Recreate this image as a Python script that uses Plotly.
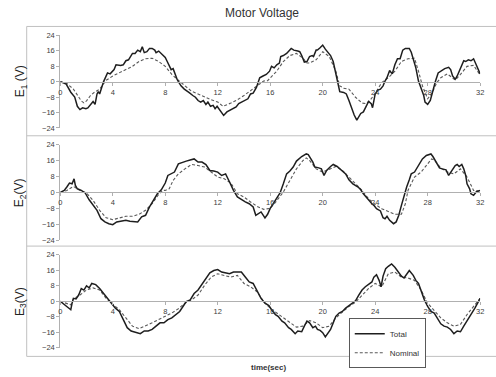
import plotly.graph_objects as go

# ---------------- data ----------------
time_ticks = [0, 4, 8, 12, 16, 20, 24, 28, 32]
volt_ticks = [-24, -16, -8, 0, 8, 16, 24]

e1_total_t = [0, 0.45, 0.8, 1.1, 1.3, 1.5, 1.7, 1.95, 2.1, 2.3, 2.5, 2.65, 2.8, 2.9, 3.0, 3.3, 3.6, 3.8,
              4.1, 4.25, 4.6, 4.8, 5.0, 5.2, 5.5, 5.7, 5.9, 6.1, 6.25, 6.4, 6.6, 6.8, 7.0, 7.2, 7.3, 7.5,
              7.75, 8.0, 8.15, 8.3, 8.45, 8.6, 8.7, 8.9, 9.0, 9.2, 9.45, 9.65, 9.8, 10.1, 10.3, 10.5,
              10.7, 10.9, 11.1, 11.25, 11.45, 11.65, 11.8, 11.95, 12.15, 12.3, 12.45, 12.7, 12.95, 13.2,
              13.4, 13.6, 13.8, 14.1, 14.3, 14.5, 14.7, 14.95, 15.2, 15.45, 15.7, 15.95,
              16.1, 16.3, 16.5, 16.7, 16.8, 17.0, 17.25, 17.6, 17.8, 18.1, 18.25, 18.4, 18.6, 18.8,
              19.0, 19.2, 19.3, 19.5, 19.6, 19.8, 20.0, 20.2, 20.4, 20.6, 20.8, 21.0, 21.2, 21.3, 21.6,
              21.8, 22.0, 22.2, 22.4, 22.6, 22.75, 22.9, 23.1, 23.3, 23.5, 23.7, 23.8, 24.0, 24.2, 24.4,
              24.6, 24.75, 24.9, 25.1, 25.3, 25.5, 25.7, 25.9, 26.1, 26.3, 26.6, 26.75, 26.9, 27.1, 27.3,
              27.5, 27.7, 27.8, 28.0, 28.2, 28.4, 28.6, 28.8, 29.1, 29.3, 29.6, 29.75, 29.9, 30.1, 30.25,
              30.5, 30.75, 30.9, 31.1, 31.3, 31.5, 31.7, 32.0]
e1_total_v = [0, -1.3, -5.5, -8, -12.8, -14.5, -13.6, -14, -13.6, -11.8, -10.3, -11.8, -6.4, -5.2, -6.4, 0, 4.5, 4,
              6.2, 8.7, 8.4, 8.7, 10.8, 11.3, 14.6, 14.6, 16.3, 15.5, 18, 15, 15.5, 17.2, 17.2, 16.3, 15, 15.8,
              14.1, 12.5, 10.4, 7.9, 6.2, 6.7, 4.5, 1.2, 0, -2.2, -3.9, -4.7, -5.6, -7.2, -8.1, -9.8,
              -10.6, -9.8, -11.8, -10.6, -12.8, -12.3, -14, -12.8, -14.8, -15.7, -17.5, -15.7, -14.8, -13.5,
              -13.1, -11.4, -10.6, -9.8, -8.9, -6.4, -6, -3, 2, 2.9, 3.7, 5.4,
              7.9, 7.1, 8.7, 9.6, 13, 13.5, 14.6, 17.2, 16.3, 15.8, 15.5, 13.5, 10.1, 10.4,
              13, 13.5, 13, 16.3, 16.3, 17.5, 18.9, 16.8, 15.2, 13.5, 10.4, 4.5, -3, -5.2, -5.6,
              -6.4, -9.8, -14, -17.3, -19.9, -17.8, -16.5, -15.7, -13.1, -10.3, -11.4, -13.5, -6.4, -4.4, -3.9,
              -2.2, 0.3, 2, 5.7, 4, 8.7, 11.8, 11.8, 16.3, 17.2, 17.2, 15.2, 12.1, 7.1, 0.3,
              -3.9, -7.2, -10.6, -11.8, -9.8, -3.9, 0.3, 4.5, 5.7, 6.7, 7.4, 6.2, 2.9, 1.2, 2.9,
              7.1, 10.8, 10.4, 11.3, 10.8, 11.8, 8.7, 4]

e1_nominal_t = [0, 0.5, 1.0, 1.3, 1.6, 1.8, 2.0, 2.3, 2.6, 3.0, 3.3, 3.5, 4, 4.5, 5, 5.5, 6, 6.5, 7, 7.5, 8,
                8.5, 9, 9.5, 10, 10.5, 11, 11.5, 12, 12.4, 13, 13.5, 14, 14.5, 15, 15.5, 15.8, 16, 16.5,
                17, 17.5, 18, 18.5, 18.8, 19, 19.5, 20, 20.5, 21, 21.3, 21.6, 22, 22.5, 23, 23.3, 23.6,
                24, 24.5, 25, 25.5, 26, 26.5, 27, 27.3, 27.6, 28, 28.3, 28.7, 29, 29.5, 29.9, 30.1,
                30.5, 31, 31.5, 32]
e1_nominal_v = [0, -1, -3.9, -7.2, -10, -11, -10, -7.2, -5.5, -3.9, -1.3, 0.7, 2.9, 4.5, 6.2, 7.9, 10.4, 11.8,
                12.1, 10.4, 7.9, 3.7, 0.7, -2.2, -5, -6.4, -8.1, -9.4, -10.6, -12.8, -11.1, -9.4, -7.2,
                -4.7, -2.2, 0.3, 0.5, 2, 5.4, 10.4, 13.5, 14.6, 12.1, 9.6, 9.6, 11.3, 15.5, 13, 5.4,
                -2.2, -3.4, -3.9, -8.1, -11.1, -11.4, -9.8, -6.1, -0.5, 2, 5.4, 10.4, 11.8, 12.1, 5.4,
                -2.2, -8.9, -6.4, -0.5, 2, 4, 2, 0.8, 3.7, 7.9, 8.4, 3.4]

e2_total_t = [0, 0.3, 0.5, 0.7, 0.9, 1.05, 1.15, 1.3, 1.6, 1.9, 2.2, 2.5, 2.8, 3.1, 3.4, 3.7, 4.0, 4.3, 4.6,
              5.0, 5.3, 5.6, 5.9, 6.2, 6.5, 6.8, 7.1, 7.4, 7.7, 8.0, 8.2, 8.5, 8.7, 9.0, 9.3, 9.6, 9.9,
              10.2, 10.5, 10.8, 11.1, 11.4, 11.7, 12.0, 12.3, 12.6, 12.9, 13.2, 13.5, 13.8, 14.1, 14.4,
              14.7, 14.9, 15.1, 15.3, 15.6, 15.8, 16.0, 16.4, 16.75,
              17.0, 17.25, 17.5, 17.75, 18.0, 18.4, 18.75, 18.9, 19.25, 19.4, 19.7, 19.9, 20.1, 20.3,
              20.6, 20.8, 21.1, 21.4, 21.75, 22.0, 22.3, 22.7, 22.9, 23.1, 23.4, 23.75, 23.9, 24.1,
              24.4, 24.6, 24.75, 24.9, 25.1, 25.4, 25.6, 25.8, 26.0, 26.2, 26.4, 26.6, 26.75, 27.0,
              27.25, 27.4, 27.6, 27.9, 28.25, 28.4, 28.6, 28.9, 29.1, 29.4, 29.6, 29.8, 30.1, 30.25,
              30.4, 30.6, 30.75, 30.9, 31.0, 31.2, 31.3, 31.5, 31.7, 32.0]
e2_total_v = [0, 1, 2.7, 4.7, 4.3, 6.8, 3.5, 1.8, 1, -0.3, -3.7, -6.5, -9, -13.2, -14.8, -15.7, -16.2, -14.8, -14.5,
              -14, -14.5, -14.5, -14.8, -12.3, -11.5, -7.3, -4, -0.7, 1.3, 4.7, 8.5, 9.3, 10.2, 14.3, 15.2, 15.7, 16.3,
              16.8, 15.2, 15.2, 14, 11, 10.7, 10.2, 8.5, 9.3, 5.2, 1, -2.3, -3.7, -4.8, -5.7,
              -7.3, -11.5, -10.7, -9.8, -12.8, -11, -8, -3.5, -0.3,
              4.3, 9.3, 10.7, 12.7, 15.7, 18, 19.3, 19, 15.2, 12.7, 12.3, 11.8, 8.5, 11,
              13, 14, 13, 11.3, 9.3, 6.3, 4.3, 2.7, 1.3, -0.7, -3.2, -5.7, -6.5, -8.2,
              -9.3, -12.7, -13.2, -12, -14, -15.7, -14.8, -11.5, -6.5, -1.5, 2.7, 6.3, 9.3, 10.2,
              12.7, 14.3, 16.8, 18.5, 19.3, 18, 15.7, 12.3, 11.8, 11.3, 8.5, 10.7, 13.5, 14,
              13, 14, 11.8, 8.5, 4.3, 1.8, -0.7, -1.5, 0.2, 1]

e2_nominal_t = [0, 0.5, 1.0, 1.3, 1.6, 2.0, 2.5, 3.0, 3.5, 4.0, 4.5, 5.0, 5.5, 6.0, 6.5, 7.0, 7.5, 7.8, 8.0,
                8.3, 8.6, 9.0, 9.5, 10.0, 10.5, 11.0, 11.5, 12.0, 12.5, 13.0, 13.5, 14.0, 14.5, 15.0, 15.5,
                16.0, 16.4, 17, 17.5, 18, 18.5, 18.75, 19, 19.5, 20, 20.5, 21, 21.5, 22, 22.5, 23, 23.5,
                24, 24.5, 25, 25.5, 26, 26.3, 26.5, 27, 27.5, 28, 28.3, 28.5, 29, 29.5, 30, 30.5, 31,
                31.5, 32]
e2_nominal_v = [0, 1, 3, 1.8, 0.7, -0.3, -4, -9, -12.7, -13.7, -12.8, -12, -12, -11, -9, -5.7, -1, 1, 1,
                1.8, 6, 9.3, 11.8, 14, 13.5, 12.7, 10.2, 7.7, 6.8, 4.7, -0.7, -2.3, -4.8, -7, -8.5,
                -8, -5, 0.2, 6, 11.8, 16, 17.3, 16, 11.8, 10.2, 11.8, 13, 11, 7.7, 4.3, 1, -3.2,
                -6, -8.2, -9.8, -11, -11, -5.7, 1, 7.7, 10.2, 14, 16.8, 16.3, 12.3, 10.2, 9.3, 11.8, 7.7,
                1, 0.7]

e3_total_t = [0, 0.3, 0.6, 0.8, 0.9, 1.0, 1.2, 1.4, 1.6, 1.8, 2.0, 2.2, 2.4, 2.7, 3.0, 3.3, 3.6, 3.9, 4.2,
              4.5, 4.8, 5.1, 5.4, 5.8, 6.1, 6.4, 6.7, 7.0, 7.3, 7.6, 7.9, 8.2, 8.5, 8.8, 9.1, 9.4, 9.6,
              9.9, 10.2, 10.5, 10.8, 11.1, 11.4, 11.7, 12.0, 12.3, 12.6, 12.9, 13.2, 13.5, 13.8, 14.1,
              14.4, 14.7, 15.0, 15.3, 15.6, 15.9,
              16.1, 16.4, 16.6, 16.9, 17.1, 17.4, 17.6, 17.9, 18.1, 18.4, 18.6, 18.8, 19.0, 19.25,
              19.45, 19.6, 19.8, 20.0, 20.2, 20.4, 20.6, 20.8, 21.0, 21.25, 21.5, 21.75, 22.0, 22.25,
              22.5, 22.75, 23.0, 23.25, 23.5, 23.75, 23.9, 24.1, 24.3, 24.45, 24.6, 24.8, 25.0, 25.25,
              25.5, 25.75, 26.0, 26.2, 26.4, 26.6, 26.9, 27.1, 27.3, 27.5, 27.75, 28.0, 28.25, 28.5,
              28.75, 29.0, 29.25, 29.5, 29.75, 30.0, 30.25, 30.5, 30.75, 31.0, 31.2, 31.4, 31.6, 32.0]
e3_total_v = [0, -1.5, -3.2, -4.4, -1, 1.5, 1.2, 3.2, 6.6, 5.8, 8, 6.9, 9.2, 8.6, 6.6, 4, 1.2, -1.5, -3.6,
              -5.3, -9.5, -13.7, -15.4, -16.3, -16.8, -15.4, -15.4, -14.6, -12.9, -11.2, -11.2, -9.5, -8.6,
              -6.9, -5.3, -2.2, -0.2, 0.7, 4, 5.8, 8.6, 11.7, 14.7, 15.9, 16.4, 15.1, 14.7, 14.2, 15.1,
              15.1, 15.1, 12.5, 10, 9.2, 4.9, 1.5, -1, -2.2,
              -4.4, -6.9, -7.8, -10.3, -11.2, -13.7, -14.6, -16.8, -15.4, -15.8, -12.9, -10.3, -11.2,
              -13.7, -12.9, -14.6, -15.1, -16.3, -18.5, -16.8, -14.6, -11.2, -7.8, -6.1, -5.3, -3.6,
              -2.2, -1, 0.2, 3.2, 5.8, 7.5, 8.6, 10, 12.5, 13.7, 10.8, 7.5, 13, 16.8, 18.1, 19.3,
              17.6, 15.1, 13, 12, 14.2, 15.9, 13.4, 10.8, 9.2, 4.9, 0.7, -2.7, -5.3, -6.1,
              -8.6, -11.7, -12.9, -13.4, -14.6, -16.8, -15.4, -15.8, -12.9, -10.3, -7.8, -6.1, -3.6, 1.5]

e3_nominal_t = [0, 0.5, 0.8, 1.0, 1.5, 2.0, 2.5, 3.0, 3.5, 4.0, 4.5, 5.0, 5.5, 6.0, 6.5, 7.0, 7.5, 8.0, 8.5,
                9.0, 9.5, 10.0, 10.5, 11.0, 11.5, 12.0, 12.5, 13.0, 13.5, 14.0, 14.5, 15.0, 15.5, 16.0,
                16.5, 17, 17.5, 18, 18.5, 19, 19.5, 20, 20.5, 21, 21.5, 22, 22.5, 23, 23.5, 24, 24.3,
                24.5, 25, 25.5, 26, 26.5, 27, 27.5, 28, 28.5, 29, 29.5, 30, 30.5, 31, 31.5, 32]
e3_nominal_v = [0, -1, -1.9, 1.2, 3.2, 5.8, 6.9, 5.8, 1.5, -1.5, -4.4, -8.6, -12.9, -14.2, -12.9, -11.2, -9.5,
                -7.8, -6.1, -3.9, -1, 0.7, 3.2, 8.3, 12.5, 14.2, 13.4, 12.5, 13.4, 9.2, 7.5, 4.9, -0.2,
                -3.6, -6.1, -8.6, -11.2, -13.4, -12.9, -10, -11.2, -13.7, -12.9, -8.6, -5.6, -2.7, -0.5,
                3.2, 6.6, 9.2, 8.3, 7.5, 14.2, 15.1, 12.5, 12, 10.8, 5.8, -1, -4.9, -8.6, -11.2, -12.9,
                -12, -6.9, -2.7, 1.5]

panel_titles = ["E<sub>1</sub> (V)", "E<sub>2</sub>(V)", "E<sub>3</sub>(V)"]
series_names = ["Total", "Nominal"]

# ---------------- layout geometry ----------------
W, H = 496, 377
FONT = "Liberation Sans, Arial, sans-serif"
x_dom = [59 / W, 484 / W]
# (top px, bottom px) of each panel's value range
panel_px = [(32, 127), (144, 242), (257, 352)]
y_doms = [[1 - b / H, 1 - t / H] for t, b in panel_px]

panels = [
    (e1_total_t, e1_total_v, e1_nominal_t, e1_nominal_v),
    (e2_total_t, e2_total_v, e2_nominal_t, e2_nominal_v),
    (e3_total_t, e3_total_v, e3_nominal_t, e3_nominal_v),
]

fig = go.Figure()
for i, (tt, tv, nt, nv) in enumerate(panels):
    sfx = "" if i == 0 else str(i + 1)
    show = (i == 2)
    fig.add_trace(go.Scatter(x=nt, y=nv, mode="lines", name=series_names[1],
                             line=dict(color="#595959", width=1.1, dash="3px,2px"),
                             xaxis="x" + sfx, yaxis="y" + sfx, showlegend=show, legendrank=2))
    fig.add_trace(go.Scatter(x=tt, y=tv, mode="lines", name=series_names[0],
                             line=dict(color="#1e1e1e", width=1.5),
                             xaxis="x" + sfx, yaxis="y" + sfx, showlegend=show, legendrank=1))

tick_font = dict(family=FONT, size=7.5, color="#404040")
layout_axes = {}
for i in range(3):
    sfx = "" if i == 0 else str(i + 1)
    yd = y_doms[i]
    layout_axes["xaxis" + sfx] = dict(
        domain=x_dom, range=[0, 32], anchor="free", position=(yd[0] + yd[1]) / 2,
        tickmode="array", tickvals=time_ticks, showline=True, linecolor="#b0b0b0", linewidth=1.2,
        ticks="outside", ticklen=3, tickcolor="#b0b0b0", showgrid=False, zeroline=False,
        tickfont=tick_font, fixedrange=True)
    layout_axes["yaxis" + sfx] = dict(
        domain=yd, range=[-24, 24], anchor="x" + sfx, tickmode="array", tickvals=volt_ticks,
        showline=True, linecolor="#b0b0b0", linewidth=1, ticks="outside", ticklen=3,
        tickcolor="#b0b0b0", showgrid=False, zeroline=False, tickfont=tick_font, fixedrange=True)

shapes = [
    dict(type="rect", xref="paper", yref="paper", x0=25 / W, x1=1.02, y0=1 - 361 / H, y1=1 - 23 / H,
         line=dict(color="#c0c0c0", width=1), fillcolor="rgba(0,0,0,0)", layer="below"),
    dict(type="line", xref="paper", yref="paper", x0=25 / W, x1=1.02, y0=1 - 135 / H, y1=1 - 135 / H,
         line=dict(color="#c0c0c0", width=1), layer="below"),
    dict(type="line", xref="paper", yref="paper", x0=25 / W, x1=1.02, y0=1 - 248 / H, y1=1 - 248 / H,
         line=dict(color="#c0c0c0", width=1), layer="below"),
]

annotations = []
for i, (t, b) in enumerate(panel_px):
    annotations.append(dict(text=panel_titles[i], xref="paper", yref="paper", x=19 / W,
                            y=1 - ((t + b) / 2) / H, textangle=-90, showarrow=False,
                            xanchor="center", yanchor="middle",
                            font=dict(family=FONT, size=12, color="#222")))
annotations.append(dict(text="<b>time(sec)</b>", xref="paper", yref="paper", x=270 / W, y=1 - 372 / H,
                        showarrow=False, xanchor="center", yanchor="middle",
                        font=dict(family=FONT, size=8, color="#333")))

fig.update_layout(
    width=W, height=H, margin=dict(l=0, r=0, t=0, b=0),
    paper_bgcolor="white", plot_bgcolor="white",
    title=dict(text="Motor Voltage", x=262 / W, y=1 - 13 / H, xanchor="center", yanchor="middle",
               font=dict(family=FONT, size=12, color="#333")),
    legend=dict(x=351 / W, y=1 - 322 / H, xanchor="left", yanchor="top", bgcolor="white",
                bordercolor="#595959", borderwidth=1, font=dict(family=FONT, size=8, color="#333"),
                tracegroupgap=0, itemwidth=30),
    shapes=shapes, annotations=annotations, showlegend=True,
    **layout_axes)

fig.write_html("out.html")
